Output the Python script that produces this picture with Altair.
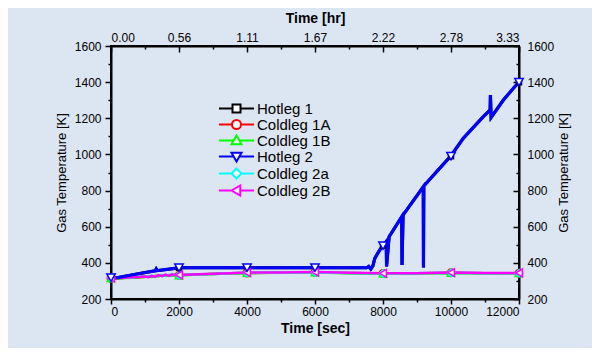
import altair as alt
import pandas as pd

# ---------------- data ----------------
series = ["Hotleg 1", "Coldleg 1A", "Coldleg 1B", "Hotleg 2", "Coldleg 2a", "Coldleg 2B"]
colors = ["#000000", "#ff0000", "#00ff00", "#0000ff", "#00ffff", "#ff00ff"]
shapes = ["square", "circle", "triangle-up", "triangle-down", "diamond", "triangle-left"]

sec_ticks = [0, 2000, 4000, 6000, 8000, 10000, 12000]
sec_minor = [1000, 3000, 5000, 7000, 9000, 11000]
hr_labels = ["0.00", "0.56", "1.11", "1.67", "2.22", "2.78", "3.33"]
k_ticks = [200, 400, 600, 800, 1000, 1200, 1400, 1600]
k_minor = [300, 500, 700, 900, 1100, 1300, 1500]

hot_t = [0, 200, 800, 1300, 1330, 1360, 1700, 2000, 3000, 4000, 5000, 6000, 7000,
         7520, 7580, 7640, 7700, 7760, 7814, 7900, 8000, 8095, 8105, 8180, 8550, 8560,
         8590, 9185, 9190, 9200, 9600, 10000, 10360, 10950, 11150, 11160, 11180, 11540,
         11835, 12000]
hot1_k = [318, 318, 340, 356, 366, 357, 365, 373, 373, 373, 373, 373, 373,
          373, 380, 366, 382, 425, 443, 470, 495, 518, 380, 545, 655, 388,
          665, 821, 375, 825, 909, 993, 1089, 1209, 1246, 1329, 1205, 1301,
          1366, 1400]
hot2_k = [318, 318, 340, 356, 366, 357, 365, 373, 373, 373, 373, 373, 373,
          373, 380, 366, 382, 425, 443, 470, 495, 518, 380, 545, 655, 388,
          665, 821, 375, 825, 909, 993, 1089, 1209, 1246, 1329, 1205, 1301,
          1366, 1400]

cold_t = [0, 200, 400, 600, 800, 1000, 1100, 1200, 1300, 1400, 1500, 1600, 1700, 1800,
          1900, 2000, 2400, 3000, 3500, 4000, 5000, 6000, 7000, 8000, 9000, 10000, 11000, 12000]
c1a_k = [315, 315, 317, 319, 321, 323, 324, 326, 327, 329, 330, 331, 332, 333,
         333, 331, 335, 339, 342, 344, 346, 348, 344, 341, 342, 345, 343, 343]
c1b_k = [314, 314, 316, 318, 320, 322, 326, 321, 329, 325, 333, 327, 334, 329,
         335, 330, 334, 338, 341, 343, 345, 347, 343, 340, 341, 344, 342, 342]
c2a_k = [317, 317, 319, 321, 323, 326, 323, 329, 325, 331, 328, 334, 330, 335,
         331, 332, 335, 339, 342, 345, 346, 348, 344, 341, 342, 345, 343, 343]
c2b_k = [316, 316, 318, 320, 322, 325, 321, 328, 323, 332, 326, 335, 328, 336,
         330, 333, 336, 340, 343, 346, 347, 349, 345, 342, 343, 346, 344, 344]

mk_t = [0, 2000, 4000, 6000, 8000, 10000, 12000]
hot1_m = [318, 373, 373, 373, 495, 990, 1400]
c1a_m = [315, 331, 344, 348, 341, 345, 343]
c1b_m = [314, 330, 343, 347, 340, 344, 342]
hot2_m = [318, 373, 373, 373, 495, 990, 1400]
c2a_m = [317, 332, 345, 348, 341, 345, 343]
c2b_m = [316, 333, 346, 349, 342, 346, 344]

# legend symbols: line through the marker (custom paths, unit box scaled by sqrt(size)/2)
legend_paths = [
    "M-3.5,0H-0.8M0.8,0H3.5M-0.8,-0.8H0.8V0.8H-0.8Z",
    "M-3.5,0H-0.9M0.9,0H3.5M-0.9,0A0.9,0.9,0,1,0,0.9,0A0.9,0.9,0,1,0,-0.9,0Z",
    "M-3.5,0H-0.6M0.6,0H3.5M0,-1L1,0.75L-1,0.75Z",
    "M-3.5,0H-0.6M0.6,0H3.5M0,1L1,-0.75L-1,-0.75Z",
    "M-3.5,0H-1M1,0H3.5M0,-1L1,0L0,1L-1,0Z",
    "M-3.5,0H-1M0.75,0H3.5M-1,0L0.75,-1L0.75,1Z",
]

line_t = [hot_t, cold_t, cold_t, hot_t, cold_t, cold_t]
line_k = [hot1_k, c1a_k, c1b_k, hot2_k, c2a_k, c2b_k]
mark_k = [hot1_m, c1a_m, c1b_m, hot2_m, c2a_m, c2b_m]
line_w = [3, 2.5, 2.5, 3.2, 2.5, 2.5]

# ---------------- scales & axes ----------------
xs = alt.Scale(domain=[0, 12000], nice=False, zero=False)
ys = alt.Scale(domain=[200, 1600], nice=False, zero=False)
FONT = "Liberation Sans"
hr_expr = "[" + ",".join("'%s'" % s for s in hr_labels) + "][round(datum.value/2000)]"

x_axes = [
    alt.Axis(orient="bottom", values=sec_ticks, format="d", title="Time [sec]",
             tickSize=5, labelPadding=2, titlePadding=4, titleFontWeight="bold",
             titleFontSize=14),
    alt.Axis(orient="bottom", values=sec_minor, labels=False, domain=False, tickSize=3,
             title=None),
    alt.Axis(orient="top", values=sec_ticks, labelExpr=hr_expr, ticks=False, tickSize=0,
             labelPadding=2, title="Time [hr]", titlePadding=6, titleFontWeight="bold",
             titleFontSize=14),
    alt.Axis(orient="top", values=sec_ticks, labels=False, domain=False, tickSize=6,
             offset=-6, title=None),
    alt.Axis(orient="top", values=sec_minor, labels=False, domain=False, tickSize=3,
             offset=-3, title=None),
    None,
]
y_axes = [
    alt.Axis(orient="left", values=k_ticks, format="d", title="Gas Temperature [K]",
             tickSize=6, labelPadding=4, titlePadding=6, titleFontWeight="normal",
             titleFontSize=13),
    alt.Axis(orient="left", values=k_minor, labels=False, domain=False, tickSize=3,
             title=None),
    alt.Axis(orient="right", values=k_ticks, format="d", ticks=False, tickSize=0,
             labelPadding=8, title="Gas Temperature [K]", titlePadding=4,
             titleFontWeight="normal", titleFontSize=13, titleAngle=270,
             titleBaseline="top"),
    alt.Axis(orient="right", values=k_ticks, labels=False, domain=False, tickSize=6,
             offset=-6, title=None),
    alt.Axis(orient="right", values=k_minor, labels=False, domain=False, tickSize=3,
             offset=-3, title=None),
    None,
]

draw_order = [0, 1, 2, 4, 5, 3]  # black, red, green, cyan, magenta, blue on top

layers = []
for n, i in enumerate(draw_order):
    df = pd.DataFrame({"t": line_t[i], "K": line_k[i]})
    layers.append(
        alt.Chart(df).mark_line(color=colors[i], strokeWidth=line_w[i], strokeJoin="miter")
        .encode(x=alt.X("t:Q", scale=xs, axis=x_axes[n]),
                y=alt.Y("K:Q", scale=ys, axis=y_axes[n]))
    )

mk_size = [25, 55, 55, 70, 55, 60]
for i in draw_order:
    df = pd.DataFrame({"t": mk_t, "K": mark_k[i]})
    layers.append(
        alt.Chart(df).mark_point(shape=shapes[i], filled=True, fill="white",
                                 stroke=colors[i], strokeWidth=1.5, size=mk_size[i],
                                 opacity=1)
        .encode(x=alt.X("t:Q", scale=xs, axis=None),
                y=alt.Y("K:Q", scale=ys, axis=None))
    )

# legend layer (invisible marks, legend only)
leg_rows = []
for i, s in enumerate(series):
    for t, k in zip(mk_t, mark_k[i]):
        leg_rows.append({"t": t, "K": k, "series": s})
leg_df = pd.DataFrame(leg_rows)


def make_legend():
    return alt.Legend(orient="none", legendX=118, legendY=55, title=None,
                      labelFontSize=15, labelFont=FONT, labelColor="black",
                      symbolSize=100, symbolStrokeWidth=2, symbolOpacity=1,
                      symbolFillColor="white", rowPadding=-3.2, labelOffset=13,
                      padding=0)


layers.append(
    alt.Chart(leg_df).mark_point(filled=False, fill="white", opacity=0, strokeWidth=2)
    .encode(x=alt.X("t:Q", scale=xs, axis=None),
            y=alt.Y("K:Q", scale=ys, axis=None),
            color=alt.Color("series:N", scale=alt.Scale(domain=series, range=colors),
                            legend=make_legend()),
            shape=alt.Shape("series:N", scale=alt.Scale(domain=series, range=legend_paths),
                            legend=make_legend()))
)

chart = (
    alt.layer(*layers)
    .resolve_axis(x="independent", y="independent")
    .properties(width=408, height=253,
                autosize=alt.AutoSizeParams(type="none"),
                padding={"left": 103, "top": 38, "right": 73, "bottom": 49},
                background="#dce6f2")
    .configure_view(stroke="black", strokeWidth=2)
    .configure_axis(domainColor="black", domainWidth=2, tickColor="black", tickWidth=1.5,
                    labelColor="black", labelFont=FONT, labelFontSize=12,
                    titleColor="black", titleFont=FONT, grid=False)
)

chart.save("out.html", embed_options={"renderer": "svg", "actions": False})
